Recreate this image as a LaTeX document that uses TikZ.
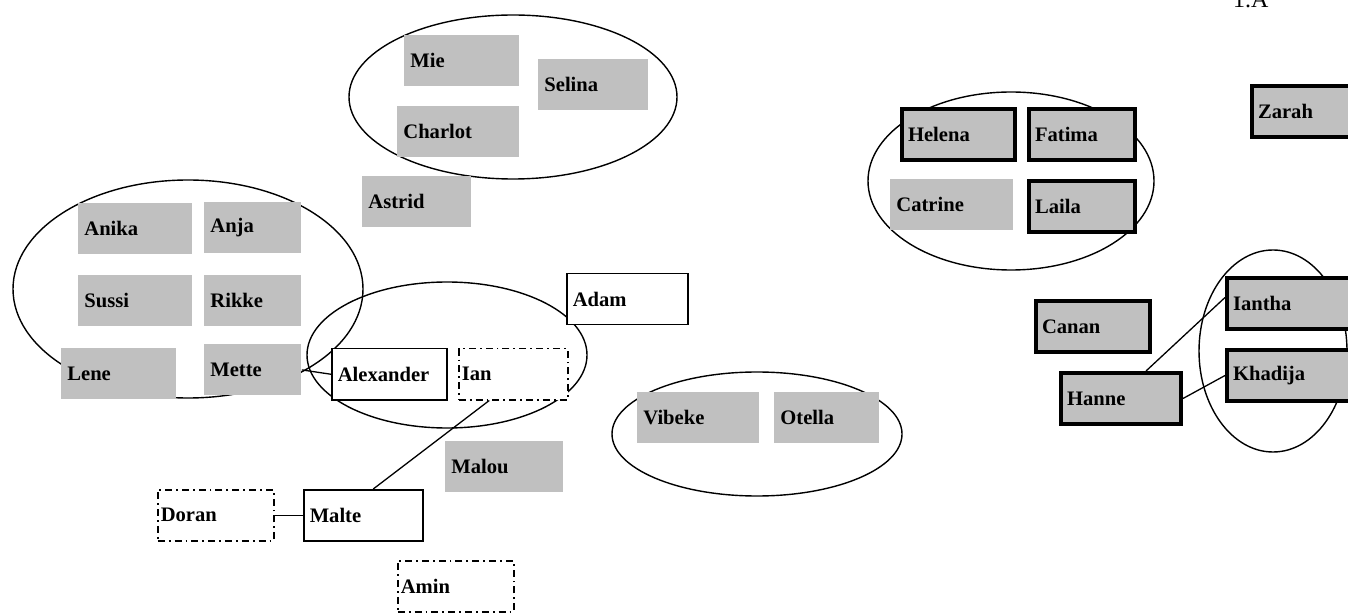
\documentclass[tikz,border=0pt]{standalone}
\usepackage{fontspec}
\setmainfont{Liberation Serif}
\usetikzlibrary{shapes.geometric}
\definecolor{boxgrey}{RGB}{192,192,192}

\begin{document}
\begin{tikzpicture}[x=0.5pt, y=-0.5pt,
  cluster/.style={ellipse, draw=black, line width=0.7pt, inner sep=0pt},
  person/.style={rectangle, anchor=north west, minimum height=25.5pt, inner xsep=3pt, inner ysep=0pt, align=left, font=\fontsize{10.3}{12}\selectfont\bfseries},
  greybox/.style={person, fill=boxgrey},
  boldbox/.style={person, fill=boxgrey, draw=black, line width=2pt},
  whitebox/.style={person, fill=white, draw=black, line width=0.75pt},
  dashbox/.style={person, fill=white, draw=black, line width=0.75pt, inner xsep=1.5pt, dash pattern=on 3.5pt off 2pt on 0.9pt off 2pt},
  link/.style={line width=0.65pt}]

  \useasboundingbox (0,0) rectangle (1348,614);

  % Groups
  \node (grpTop) [cluster, minimum width=164pt, minimum height=82pt] at (513,97) {};
  \node (grpLeft) [cluster, minimum width=175pt, minimum height=109pt] at (188,289) {};
  \node (grpMid) [cluster, minimum width=140pt, minimum height=73pt] at (447,355) {};
  \node (grpVO) [cluster, minimum width=145pt, minimum height=62pt] at (757,434) {};
  \node (grpHF) [cluster, minimum width=143pt, minimum height=89pt] at (1011,181) {};
  \node (grpIK) [cluster, minimum width=74pt, minimum height=101pt] at (1273,351) {};

  \node (title) [anchor=base west, font=\fontsize{12}{14}\selectfont] at (1226,8) {1.A};

  % Nodes
  \node (mie) [greybox, text width=51.5pt] at (404,35) {Mie};
  \node (selina) [greybox, text width=49pt] at (538,59) {Selina};
  \node (charlot) [greybox, text width=55pt] at (397,106) {Charlot};
  \node (astrid) [greybox, text width=48.5pt] at (362,176) {Astrid};

  \node (anika) [greybox, text width=51pt] at (78,203) {Anika};
  \node (anja) [greybox, text width=42.5pt] at (204,202) {Anja};
  \node (sussi) [greybox, text width=51pt] at (78,275) {Sussi};
  \node (rikke) [greybox, text width=42.5pt] at (204,275) {Rikke};
  \node (lene) [greybox, text width=51.5pt] at (61,348) {Lene};
  \node (mette) [greybox, text width=42.5pt] at (204,344) {Mette};

  \node (alexander) [whitebox, text width=51.5pt] at (331,348) {Alexander};
  \node (ian) [dashbox, text width=51.5pt] at (458,348) {Ian};
  \node (adam) [whitebox, text width=54.5pt] at (566,273) {Adam};
  \node (malou) [greybox, text width=53pt] at (445,441) {Malou};
  \node (doran) [dashbox, text width=55pt] at (157,489) {Doran};
  \node (malte) [whitebox, text width=53.5pt] at (303,489) {Malte};
  \node (amin) [dashbox, text width=55pt] at (397,560) {Amin};

  \node (vibeke) [greybox, text width=55pt] at (637,392) {Vibeke};
  \node (otella) [greybox, text width=46.5pt] at (774,392) {Otella};

  \node (helena) [boldbox, text width=50.5pt] at (900,107) {Helena};
  \node (fatima) [boldbox, text width=47pt] at (1027,107) {Fatima};
  \node (catrine) [greybox, text width=55.5pt] at (890,179) {Catrine};
  \node (laila) [boldbox, text width=47pt] at (1027,179) {Laila};
  \node (zarah) [boldbox, text width=44.5pt] at (1250,84) {Zarah};

  \node (canan) [boldbox, text width=51pt] at (1034,299) {Canan};
  \node (hanne) [boldbox, text width=54pt] at (1059,371) {Hanne};
  \node (iantha) [boldbox, text width=55.5pt] at (1225,276) {Iantha};
  \node (khadija) [boldbox, text width=55.5pt] at (1225,348) {Khadija};

  % Links
  \draw [link] (mette.east) -- (alexander.west);
  \draw [link] ([xshift=-12pt]ian.south) -- ([xshift=5pt]malte.north);
  \draw [link] (doran) -- (malte);
  \draw [link] ([xshift=12.5pt]hanne.north) -- ([yshift=3pt]iantha.west);
  \draw [link] (hanne.east) -- (khadija.west);
\end{tikzpicture}
\end{document}
